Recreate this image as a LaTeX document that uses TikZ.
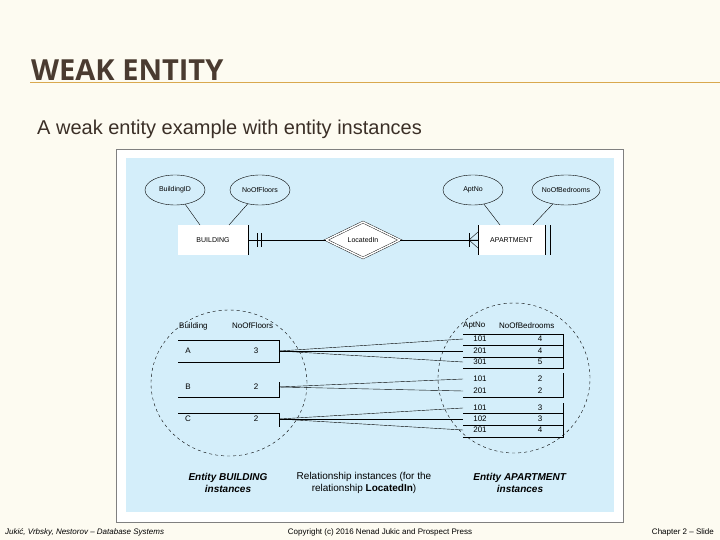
\documentclass[tikz,border=0pt]{standalone}
\usepackage{fontspec}
\setmainfont{Liberation Sans}
\newfontfamily\titlefont{Open Sans}
\usetikzlibrary{shapes.geometric,positioning}
\definecolor{cream}{HTML}{FDFBF1}
\definecolor{titlebrown}{HTML}{4A3B30}
\definecolor{goldline}{HTML}{D9A84E}
\definecolor{panelblue}{HTML}{D4EEFA}
\tikzset{
  attr/.style={draw,ellipse,fill=panelblue,minimum width=60pt,minimum height=30pt,inner sep=0pt,font=\fontsize{7}{8}\selectfont},
  ent/.style={fill=white,minimum width=70pt,minimum height=29pt,font=\fontsize{7}{8}\selectfont},
  rel/.style={draw,diamond,double,double distance=1.5pt,fill=white,aspect=2,minimum width=74pt,minimum height=36pt,inner sep=0pt,font=\fontsize{7}{8}\selectfont},
  cell/.style={font=\fontsize{8}{9}\selectfont,inner sep=0pt},
  link/.style={thin},
  caption/.style={font=\fontsize{10}{12}\selectfont,align=center}
}
\begin{document}
\begin{tikzpicture}[x=1pt,y=-1pt]
	\fill[cream] (0,0) rectangle (720,540);
	\useasboundingbox (0,0) rectangle (720,540);
	% title
	\node[anchor=base west,inner sep=0pt,text=titlebrown,font=\titlefont\bfseries\fontsize{29}{32}\selectfont] (title) at (31,81) {WEAK ENTITY};
	\draw[goldline,line width=1pt] (30,83) -- (720,83);
	\node[anchor=base west,inner sep=0pt,text=titlebrown!80!black,font=\fontsize{20}{22}\selectfont] (sub) at (37,135) {A weak entity example with entity instances};
	% panel
	\draw[gray,fill=white] (116,149) rectangle (623,522);
	\fill[panelblue] (126,158) rectangle (614,512);
	% ER part
	\node[attr] (bid) at (175,190) {BuildingID};
	\node[attr] (nof) at (260,190) {NoOfFloors};
	\node[attr] (apt) at (473,190) {AptNo};
	\node[attr] (nob) at (566,190) {NoOfBedrooms};
	\node[ent] (bld) at (213,240) {BUILDING};
	\node[ent,minimum width=67pt] (apm) at (511.5,240) {APARTMENT};
	\draw (bld.north east) -- (bld.south east);
	\draw (apm.north west) -- (apm.south west) (apm.north east) -- (apm.south east);
	\draw ([xshift=5pt]apm.north east) -- ([xshift=5pt]apm.south east);
	\node[rel] (loc) at (363,240) {LocatedIn};
	\draw (bid) -- (200,225);
	\draw (nof) -- (229,225);
	\draw (apt) -- (500,225);
	\draw (nob) -- (533,225);
	\draw (bld.east) -- (loc.west);
	\draw (257,233) -- (257,247) (261,233) -- (261,247);
	\draw (loc.east) -- (apm.west);
	\draw (469,233) -- (469,247);
	\draw (469,240) -- (apm.west) (469,240) -- (478,232) (469,240) -- (478,248);
	% instance circles
	\draw[dashed,thin] (229,383) ellipse (78pt and 73pt);
	\draw[dashed,thin] (514,378) ellipse (76pt and 75pt);
	% building table
	\node[cell,anchor=west] (hb) at (179,326) {Building};
	\node[cell,anchor=west] (hf) at (232,326) {NoOfFloors};
	\draw (178,340) -- (279,340) -- (279,362) -- (178,362);
	\draw (279,382) -- (279,397) -- (178,397);
	\draw (178,413) -- (279,413) -- (279,427);
	\node[cell] (ra) at (188,351) {A}; \node[cell] (fa) at (256,351) {3};
	\node[cell] (rb) at (188,387) {B}; \node[cell] (fb) at (256,387) {2};
	\node[cell] (rc) at (188,419) {C}; \node[cell] (fc) at (256,419) {2};
	\coordinate (pa) at (279,351);
	\coordinate (pb) at (279,387);
	\coordinate (pc) at (279,419);
	% apartment table
	\node[cell,anchor=west] (ha) at (463,326) {AptNo};
	\node[cell,anchor=west] (hn) at (499,326) {NoOfBedrooms};
	\draw (463,334) -- (563,334) -- (563,368) -- (463,368);
	\draw (463,345) -- (563,345) (463,357) -- (563,357);
	\draw (563,373) -- (563,397) -- (463,397);
	\draw (563,403) -- (563,437) -- (463,437);
	\draw (463,413) -- (563,413) (463,425) -- (563,425);
	\foreach \n/\y/\apt/\bed in {1/339/101/4,2/351/201/4,3/362/301/5,4/379/101/2,5/391/201/2,6/408/101/3,7/419/102/3,8/430/201/4}{
		\node[cell] (apt\n) at (480,\y) {\apt};
		\node[cell] (bed\n) at (540,\y) {\bed};
		\coordinate (q\n) at (463,\y);
	}
	% relationship instances
	\foreach \p/\q in {pa/q1,pa/q2,pa/q3,pb/q4,pb/q5,pc/q6,pc/q7,pc/q8}
		\draw[link] (\p) -- (\q);
	% captions
	\node[caption] (cb) at (228,483) {\textbf{\textit{Entity BUILDING}}\\\textbf{\textit{instances}}};
	\node[caption] (cr) at (364,483) {Relationship instances (for the\\relationship \textbf{LocatedIn})};
	\node[caption] (ca) at (520,483) {\textbf{\textit{Entity APARTMENT}}\\\textbf{\textit{instances}}};
	% footer
	\node[anchor=base west,inner sep=0pt,font=\itshape\fontsize{8}{9}\selectfont] (f1) at (5,534) {Jukić, Vrbsky, Nestorov – Database Systems};
	\node[anchor=base,inner sep=0pt,font=\fontsize{8}{9}\selectfont] (f2) at (380,534) {Copyright (c) 2016 Nenad Jukic and Prospect Press};
	\node[anchor=base east,inner sep=0pt,font=\fontsize{8}{9}\selectfont] (f3) at (714,534) {Chapter 2 – Slide};
\end{tikzpicture}
\end{document}
